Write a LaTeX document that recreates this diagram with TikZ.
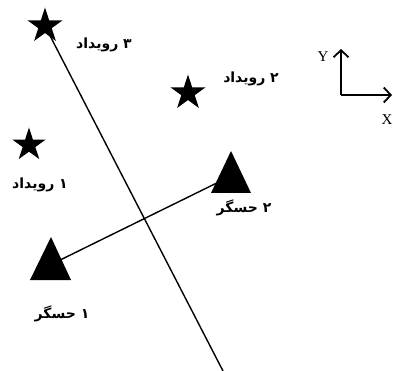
\documentclass[tikz,border=0pt]{standalone}
\usepackage{fontspec}
\setmainfont{Liberation Serif}
\newfontfamily\arabicfont[Script=Arabic]{DejaVu Sans}
\TeXXeTstate=1
\usetikzlibrary{shapes.geometric,arrows.meta}
\tikzset{
  evstar/.style={star, star points=5, star point ratio=2.618, minimum size=37pt, inner sep=0pt, fill=black, draw=none},
  lbl/.style={font=\arabicfont\bfseries\fontsize{14}{16}\selectfont, inner sep=0pt},
  axlbl/.style={font=\fontsize{15}{17}\selectfont, inner sep=0pt},
  conn/.style={line width=1.4pt},
  axis/.style={line width=1.8pt, -{Straight Barb[length=7pt,width=15pt,line width=1.8pt]}},
  tri/.style={fill=black}
}
\begin{document}
\begin{tikzpicture}[x=1pt,y=-1pt]
\useasboundingbox (0,0) rectangle (393,371);
% coordinates
\coordinate (t1) at (50,265);
\coordinate (t2) at (231,176);
\coordinate (lineend) at (223,371);
\coordinate (o) at (341,95);
\coordinate (ytip) at (341,49);
\coordinate (xtip) at (392,95);
% lines
\draw[conn] (45,26) coordinate (s3c) -- (lineend);
\draw[conn] (t1) -- (t2);
% triangles
\fill[tri] (51,237) -- (71,280) -- (30,280) -- cycle;
\fill[tri] (231,151) -- (251,193) -- (211,193) -- cycle;
% stars
\node[evstar] (s3) at (45,26) {};
\node[evstar] (s2) at (188,93) {};
\node[evstar, minimum size=35pt] (s1) at (29,145) {};
% labels
\node[lbl] (l3) at (104,45) {\beginR ۳ رویداد\endR};
\node[lbl] (l2) at (251,79) {\beginR ۲ رویداد\endR};
\node[lbl] (l1) at (40,185) {\beginR ۱ رویداد\endR};
\node[lbl] (h2) at (244,208) {\beginR ۲ حسگر\endR};
\node[lbl] (h1) at (62,314) {\beginR ۱ حسگر\endR};
% axes
\draw[axis] (o) -- (ytip);
\draw[axis] (o) -- (xtip);
\node[axlbl] (ylab) at (323,57) {Y};
\node[axlbl] (xlab) at (387,120) {X};
\end{tikzpicture}
\end{document}
